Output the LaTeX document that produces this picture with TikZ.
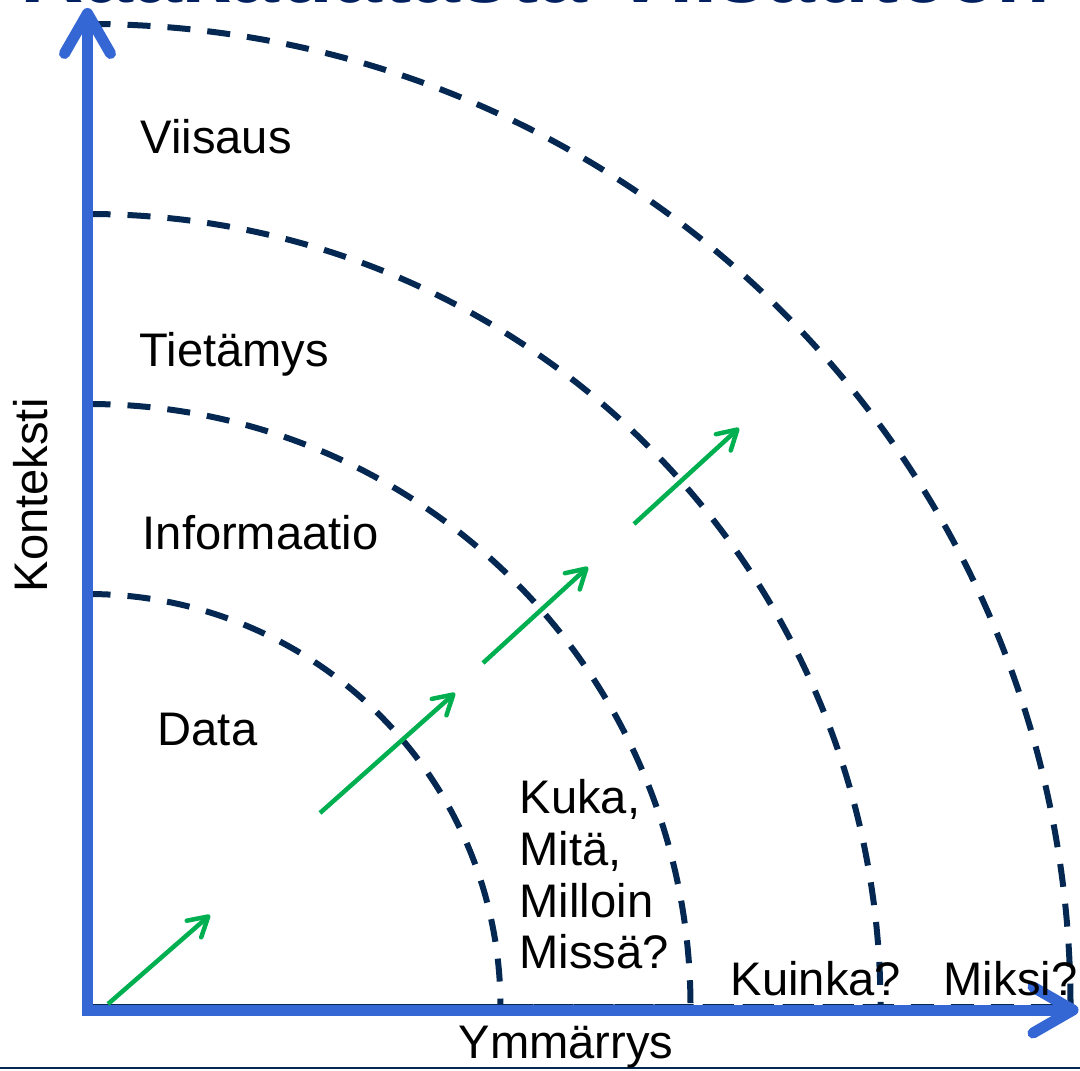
\documentclass[tikz,border=0pt]{standalone}
\usepackage{fontspec}
\setmainfont{Liberation Sans}
\usetikzlibrary{arrows.meta}
\usetikzlibrary{positioning}
\definecolor{axisblue}{RGB}{52,102,212}
\definecolor{ringnavy}{RGB}{4,40,82}
\definecolor{titlenavy}{RGB}{0,32,96}
\definecolor{stepgreen}{RGB}{0,176,80}
\tikzset{
axis/.style={ % Sets the properties of both axes
draw=axisblue,
line width=0.11cm,
-{Straight Barb[length=0.40cm, width=0.46cm, round]}},
ring/.style={ % Dashed border between two levels
draw=ringnavy,
line width=0.06cm,
dash pattern=on 0.23cm off 0.17cm},
growth/.style={ % Green arrows, one per step
draw=stepgreen,
line width=0.045cm,
-{Straight Barb[length=0.19cm, width=0.22cm, round]}},
level/.style={ % Names of the levels and the questions
anchor=base west,
inner sep=0pt,
font=\fontsize{13.4pt}{14.7pt}\selectfont}}

\begin{document}
\begin{tikzpicture}[x=0.01cm, y=0.01cm]
\useasboundingbox (-87.5,-60) rectangle (992.5,1010);
% title, mostly above the page
\node[level, font=\fontsize{25pt}{30pt}\selectfont\bfseries, text=titlenavy] (otsikko) at (-67.5,1007) {Raakadatasta Viisauteen};
\coordinate (bl) at (-87.5,-58);
\coordinate (br) at (992.5,-58);
\draw[ringnavy, line width=0.02cm] (bl) -- (br);
% rings
\draw[ring] (0,416) arc[start angle=90, end angle=0, radius=413] -- (0,3) -- cycle;
\draw[ring] (0,606) arc[start angle=90, end angle=0, radius=603] -- (0,3) -- cycle;
\draw[ring] (0,796) arc[start angle=90, end angle=0, radius=793] -- (0,3) -- cycle;
\draw[ring] (0,986) arc[start angle=90, end angle=0, radius=983] -- (0,3) -- cycle;
% axes
\coordinate (ybase) at (0,-5.5);
\coordinate (ytop) at (0,1002);
\coordinate (xbase) at (-5.5,0);
\coordinate (xend) at (991,0);
\draw[axis] (ybase) -- (ytop);
\draw[axis] (xbase) -- (xend);
\node[level, rotate=90] (konteksti) at (-39.5,417) {Konteksti};
\node[level] (ymmarrys) at (370.5,-48) {Ymmärrys};
% levels
\node[level] (viisaus) at (52.5,856) {Viisaus};
\node[level] (tietamys) at (51.5,643) {Tietämys};
\node[level] (informaatio) at (54.5,460) {Informaatio};
\node[level] (data) at (69.5,265) {Data};
% questions
\node[level, anchor=north west, align=left] (kuka) at (431.5,231) {Kuka,\\Mitä,\\Milloin\\Missä?};
\node[level] (kuinka) at (642.5,15) {Kuinka?};
\node[level] (miksi) at (855.5,15) {Miksi?};
% steps
\coordinate (s1) at (20.5,6);
\coordinate (t1) at (122.5,95);
\coordinate (s2) at (232.5,197);
\coordinate (t2) at (367.5,317);
\coordinate (s3) at (395.5,347);
\coordinate (t3) at (500.5,443);
\coordinate (s4) at (546.5,486);
\coordinate (t4) at (651.5,582);
\draw (s1) edge[growth] (t1);
\draw (s2) edge[growth] (t2);
\draw (s3) edge[growth] (t3);
\draw (s4) edge[growth] (t4);
\end{tikzpicture}
\end{document}
